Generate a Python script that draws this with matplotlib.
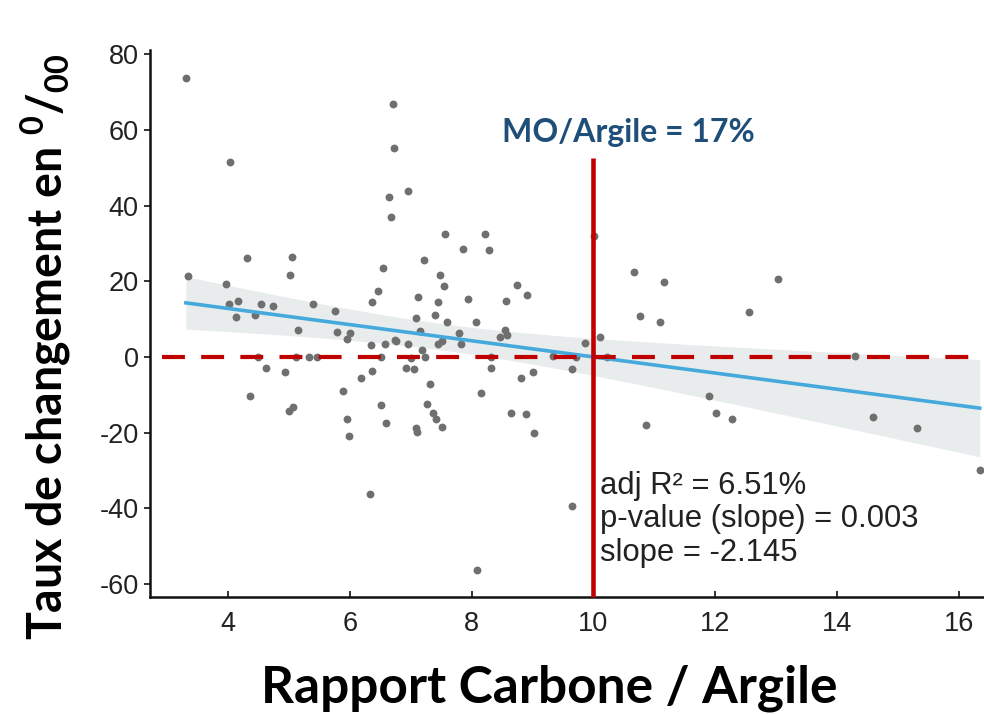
import numpy as np
import matplotlib
matplotlib.use("Agg")
import matplotlib.pyplot as plt

# points: rapport C / argile, taux de changement (pour mille)
ratio = [3.31, 6.71, 6.72, 4.04, 6.95, 6.65, 6.67, 4.32, 5.05, 7.21,
         3.34, 5.02, 6.55, 3.97, 6.47, 7.12, 4.02, 4.17, 4.55, 4.74,
         5.40, 5.76, 6.37, 4.14, 4.45, 7.08, 5.15, 5.79, 6.00, 5.96,
         6.75, 7.15, 6.34, 6.58, 6.76, 6.96, 7.19, 7.23, 4.50, 5.12,
         5.33, 5.46, 6.51, 7.00, 4.63, 4.94, 6.36, 6.18, 6.92, 7.05,
         7.31, 4.37, 5.89, 7.27, 5.06, 5.00, 6.52, 5.95, 6.60, 5.98,
         7.08, 7.10, 6.33, 7.57, 8.22, 7.86, 8.28, 7.48, 7.54, 8.74,
         8.91, 7.44, 7.94, 8.56, 7.40, 7.60, 8.07, 7.80, 8.54, 8.58,
         8.47, 10.01, 10.10, 10.66, 11.15, 10.76, 11.09, 7.82, 7.45, 7.52,
         8.32, 8.31, 7.37, 7.42, 7.51, 8.15, 8.81, 9.01, 8.65, 8.89,
         9.03, 9.65, 9.71, 9.86, 10.22, 10.87, 9.65, 8.08, 13.03, 12.56,
         14.30, 11.89, 12.01, 12.27, 14.59, 15.31, 16.34, 9.34]
taux = [73.8, 66.7, 55.2, 51.4, 43.9, 42.3, 37.1, 26.1, 26.5, 25.6,
        21.4, 21.7, 23.6, 19.2, 17.3, 15.9, 13.9, 14.9, 14.1, 13.5,
        14.1, 12.2, 14.4, 10.6, 11.0, 10.3, 7.1, 6.6, 6.3, 4.8,
        4.6, 6.9, 3.1, 3.4, 4.2, 3.3, 1.8, 0.1, 0.1, 0.1,
        0.0, 0.0, 0.0, -0.2, -3.0, -4.1, -3.6, -5.5, -2.8, -3.3,
        -7.1, -10.2, -9.1, -12.5, -13.3, -14.4, -12.8, -16.5, -17.4, -20.9,
        -18.7, -19.8, -36.3, 32.6, 32.4, 28.4, 28.2, 21.7, 18.8, 19.0,
        16.4, 14.4, 15.4, 14.9, 11.2, 9.1, 9.1, 6.2, 7.0, 5.8,
        5.4, 31.9, 5.4, 22.5, 19.9, 10.9, 9.1, 3.3, 3.3, 4.3,
        0.0, -2.9, -14.9, -16.5, -18.4, -9.6, -5.6, -4.1, -14.8, -15.1,
        -20.2, -3.2, 0.0, 3.8, 0.1, -18.1, -39.4, -56.3, 20.5, 12.0,
        0.3, -10.3, -14.9, -16.4, -16.0, -18.7, -30.0, 0.2]

seuil = 10
stats_lines = ["adj R² = 6.51%", "p-value (slope) = 0.003", "slope = -2.145"]
xticks = [4, 6, 8, 10, 12, 14, 16]
yticks = [-60, -40, -20, 0, 20, 40, 60, 80]

plt.rcParams['axes.unicode_minus'] = False
plt.rcParams['mathtext.fontset'] = 'custom'
plt.rcParams['mathtext.rm'] = 'Lato:bold'
plt.rcParams['mathtext.bf'] = 'Lato:bold'

x = np.array(ratio)
y = np.array(taux)

# linear fit + 95% confidence band
slope, intercept = np.polyfit(x, y, 1)
xs = np.linspace(x.min(), x.max(), 200)
ys = intercept + slope * xs
n = len(x)
resid = y - (intercept + slope * x)
s = np.sqrt(np.sum(resid ** 2) / (n - 2))
se = s * np.sqrt(1 / n + (xs - x.mean()) ** 2 / np.sum((x - x.mean()) ** 2))
ci = 1.98 * se

fig = plt.figure(figsize=(9.84, 7.14), dpi=100)
ax = fig.add_axes([0.1524, 0.164, 0.8476, 0.766])

ax.fill_between(xs, ys - ci, ys + ci, color='#e9ecec', lw=0, zorder=1)
ax.scatter(x, y, s=32, color='#6f6f6f', lw=0, zorder=3)
ax.plot(xs, ys, color='#45a9dc', lw=2.6, zorder=4)

ax.hlines(0, 2.92, 16.45, colors='#c00000', lw=3.0, linestyles=(0, (5.5, 3.9)),
          zorder=5, clip_on=False)
ax.vlines(seuil, -63.4, 52.6, colors='#c00000', lw=3.3, zorder=6, clip_on=False)

ax.text(10.57, 59.2, "MO/Argile = 17%", ha='center', va='center',
        color='#1f4e79', fontsize=23, fontweight='bold', family='Lato')
for i, line in enumerate(stats_lines):
    ax.text(seuil + 0.1, -34 - i * 8.9, line, ha='left', va='center',
            fontsize=22.3, color='#222222', family='Liberation Sans')

ax.set_xlim(2.72, 16.41)
ax.set_ylim(-63.4, 81.1)
ax.set_xticks(xticks)
ax.set_yticks(yticks)
ax.spines['top'].set_visible(False)
ax.spines['right'].set_visible(False)
for sp in ['left', 'bottom']:
    ax.spines[sp].set_linewidth(1.8)
    ax.spines[sp].set_color('#111111')
ax.tick_params(axis='both', labelsize=19.5, colors='#111111', labelcolor='#222222',
               length=4, width=1.2)
ax.tick_params(axis='x', direction='in', pad=10)
ax.tick_params(axis='y', direction='out', pad=4)
for lab in ax.get_xticklabels() + ax.get_yticklabels():
    lab.set_family('Liberation Sans')

fig.text(0.558, 1 - 688 / 714, "Rapport Carbone / Argile", ha='center', va='center',
         fontsize=37, fontweight='bold', family='Lato')
fig.text(0.046, 1 - 347 / 714, r"Taux de changement en $^{0}/_{00}$", ha='center',
         va='center', rotation=90, fontsize=33.5, fontweight='bold', family='Lato')

fig.savefig("out.png", dpi=100)
